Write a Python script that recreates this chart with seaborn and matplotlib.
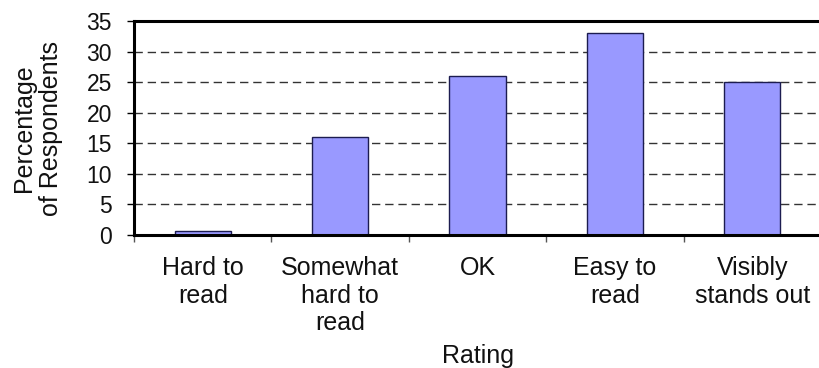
import matplotlib
matplotlib.use("Agg")
import matplotlib.pyplot as plt
import numpy as np
import pandas as pd
import seaborn as sns

categories = ["Hard to\nread", "Somewhat\nhard to\nread", "OK", "Easy to\nread", "Visibly\nstands out"]
percentages = [0.6, 16, 26, 33, 25]
y_ticks = [0, 5, 10, 15, 20, 25, 30, 35]

sns.set_theme(style="white")
plt.rcParams["font.family"] = ["Liberation Sans", "DejaVu Sans"]

W, H = 819, 368
fig = plt.figure(figsize=(W / 100, H / 100), dpi=100)
ax = fig.add_axes([134 / W, 1 - 235 / H, (821 - 134) / W, (235 - 21) / H])

df = pd.DataFrame({"Rating": categories, "Percentage": percentages})
sns.barplot(data=df, x="Rating", y="Percentage", color="#9999ff", saturation=1,
            edgecolor="#1c1c50", linewidth=1.0, width=0.41, ax=ax, zorder=3)

ax.set_xlim(-0.5, len(categories) - 0.5)
ax.set_ylim(0, 35)
ax.set_yticks(y_ticks)
ax.set_yticklabels([str(t) for t in y_ticks])

ax.set_axisbelow(True)
ax.yaxis.grid(True, color="#333333", linewidth=1.0, linestyle=(0, (6, 3.5)))
ax.xaxis.grid(False)

for side in ["left", "top", "bottom"]:
    ax.spines[side].set_visible(True)
    ax.spines[side].set_linewidth(2.2)
    ax.spines[side].set_color("black")
    ax.spines[side].set_zorder(5)
ax.spines["right"].set_visible(False)

ax.set_xticks(np.arange(-0.5, len(categories), 1.0), minor=True)
ax.tick_params(axis="x", which="major", length=0, pad=15, labelsize=18, labelcolor="#111111")
ax.tick_params(axis="x", which="minor", length=5, width=1, color="#555555", bottom=True)
ax.tick_params(axis="y", which="major", length=5, width=1, color="black", pad=11,
               labelsize=16.5, labelcolor="#111111", left=True)
for lbl in ax.get_xticklabels():
    lbl.set_linespacing(1.2)

ax.set_xlabel("Rating", fontsize=18, color="#111111", labelpad=6)
ax.set_ylabel("Percentage\nof Respondents", fontsize=18, color="#111111", labelpad=17,
              linespacing=1.15)

fig.savefig("out.png", dpi=100)
